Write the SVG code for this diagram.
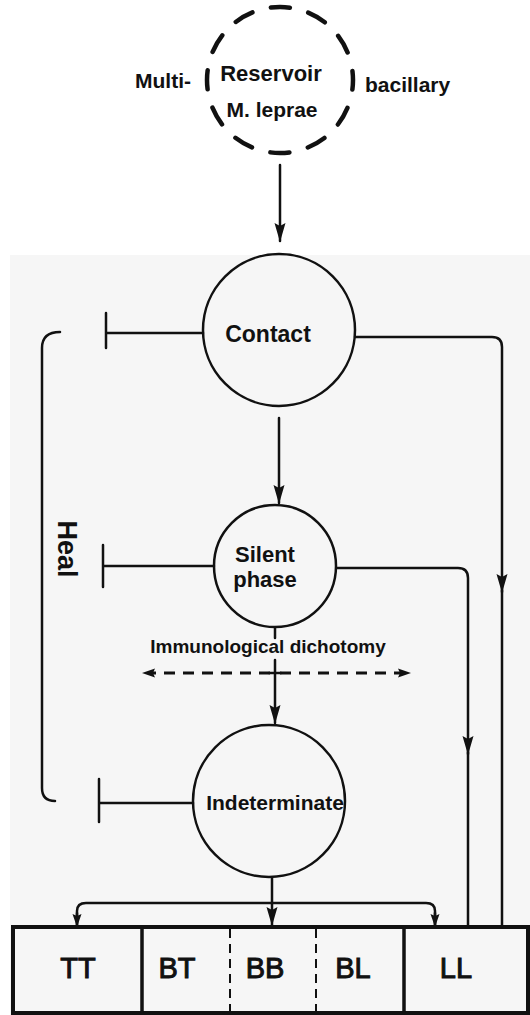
<svg xmlns="http://www.w3.org/2000/svg" width="530" height="1015" viewBox="0 0 530 1015">
<style>
.t{font-family:"Liberation Sans",Arial,sans-serif;font-weight:bold;fill:#111;}
.b{font-family:"Liberation Sans",Arial,sans-serif;font-weight:normal;fill:#111;stroke:#111;stroke-width:1;}
.ln{fill:none;stroke:#111;stroke-width:2.5;stroke-linecap:round;stroke-linejoin:round;}
.nd{fill:none;stroke:#111;stroke-width:2.5;}
.dash{fill:none;stroke:#111;stroke-width:3;stroke-dasharray:11 8;}
.box{fill:none;stroke:#111;stroke-width:4;}
</style>
<defs>
<marker id="ah" markerUnits="userSpaceOnUse" markerWidth="19" markerHeight="12" refX="18" refY="6" orient="auto">
<path d="M0,0.5 L19,6 L0,11.5 L3,6 z" fill="#111"/>
</marker>
<marker id="ahs" markerUnits="userSpaceOnUse" markerWidth="13" markerHeight="10" refX="12" refY="5" orient="auto">
<path d="M0,0.5 L13,5 L0,9.5 L2,5 z" fill="#111"/>
</marker>
</defs>
<rect x="10" y="255" width="520" height="760" fill="#f6f6f6"/>

<g id="connectors">
<path class="ln" d="M280,165 L280,241" marker-end="url(#ah)"/>
<path class="ln" d="M279,418 L279,503" marker-end="url(#ah)"/>
<path class="ln" d="M275,628 L275,638"/>
<path class="ln" d="M275,660 L275,723" marker-end="url(#ah)"/>
<path class="ln" d="M272,878 L272,925" marker-end="url(#ah)"/>
<path class="ln" d="M203,333 L106,333 M106,313 L106,348"/>
<path class="ln" d="M214,566 L103,566 M103,545 L103,587"/>
<path class="ln" d="M193,803 L99,803 M99,779 L99,822"/>
<path class="ln" d="M60,332 Q42,332 42,348 L42,788 Q42,801 55,801"/>
<path class="ln" d="M355,337 L492,337 Q502,337 502,347 L502,592" marker-end="url(#ah)"/>
<path class="ln" d="M502,590 L502,926"/>
<path class="ln" d="M337,568 L458,568 Q468,568 468,578 L468,754" marker-end="url(#ah)"/>
<path class="ln" d="M468,752 L468,926"/>
<path class="ln" d="M77,926 L77,911 Q77,903 86,903 L426,903 Q435,903 435,911 L435,926"/>
<path class="ln" d="M77,913 L77,926" marker-end="url(#ahs)"/>
<path class="ln" d="M435,913 L435,926" marker-end="url(#ahs)"/>
<path class="dash" d="M270,673 L152,673"/>
<path class="dash" d="M280,673 L400,673"/>
<path class="ln" d="M262,673 L143,673" stroke-opacity="0" marker-end="url(#ahs)"/>
<path class="ln" d="M288,673 L410,673" stroke-opacity="0" marker-end="url(#ahs)"/>
<path class="ln" d="M269,673 L281,673"/>
</g>

<g id="reservoir">
<circle cx="280" cy="80" r="73" fill="none" stroke="#111" stroke-width="4.5" stroke-linecap="round" stroke-dasharray="19.2 19" stroke-dashoffset="9.6"/>
<text class="t" x="271" y="81" font-size="22" text-anchor="middle">Reservoir</text>
<text class="t" x="272" y="117" font-size="21" text-anchor="middle">M. leprae</text>
<text class="t" x="135" y="88" font-size="21">Multi-</text>
<text class="t" x="365" y="92" font-size="21">bacillary</text>
</g>

<g id="contact">
<circle class="nd" cx="279" cy="330" r="76"/>
<text class="t" x="268" y="342" font-size="23" text-anchor="middle">Contact</text>
</g>

<g id="silent">
<circle class="nd" cx="275" cy="566" r="61"/>
<text class="t" x="265" y="562" font-size="22" text-anchor="middle">Silent</text>
<text class="t" x="265" y="587" font-size="22" text-anchor="middle">phase</text>
</g>

<g id="dichotomy">
<text class="t" x="268" y="653" font-size="19" text-anchor="middle">Immunological dichotomy</text>
</g>

<g id="indeterminate">
<circle class="nd" cx="269" cy="801" r="76"/>
<text class="t" x="275" y="810" font-size="21" text-anchor="middle">Indeterminate</text>
</g>

<g id="heal">
<text class="t" x="0" y="0" font-size="27" text-anchor="middle" transform="translate(58,549) rotate(90)">Heal</text>
</g>

<g id="spectrum">
<rect class="box" x="13" y="927" width="515" height="86"/>
<path d="M142,927 L142,1013 M404,927 L404,1013" stroke="#111" stroke-width="3.5"/>
<path d="M230,929 L230,1013 M316,929 L316,1013" stroke="#111" stroke-width="2" stroke-dasharray="9 6"/>
<text class="b" x="78" y="978" font-size="29" text-anchor="middle">TT</text>
<text class="b" x="177" y="978" font-size="29" text-anchor="middle">BT</text>
<text class="b" x="265" y="978" font-size="29" text-anchor="middle">BB</text>
<text class="b" x="353" y="978" font-size="29" text-anchor="middle">BL</text>
<text class="b" x="456" y="978" font-size="29" text-anchor="middle">LL</text>
</g>
</svg>
